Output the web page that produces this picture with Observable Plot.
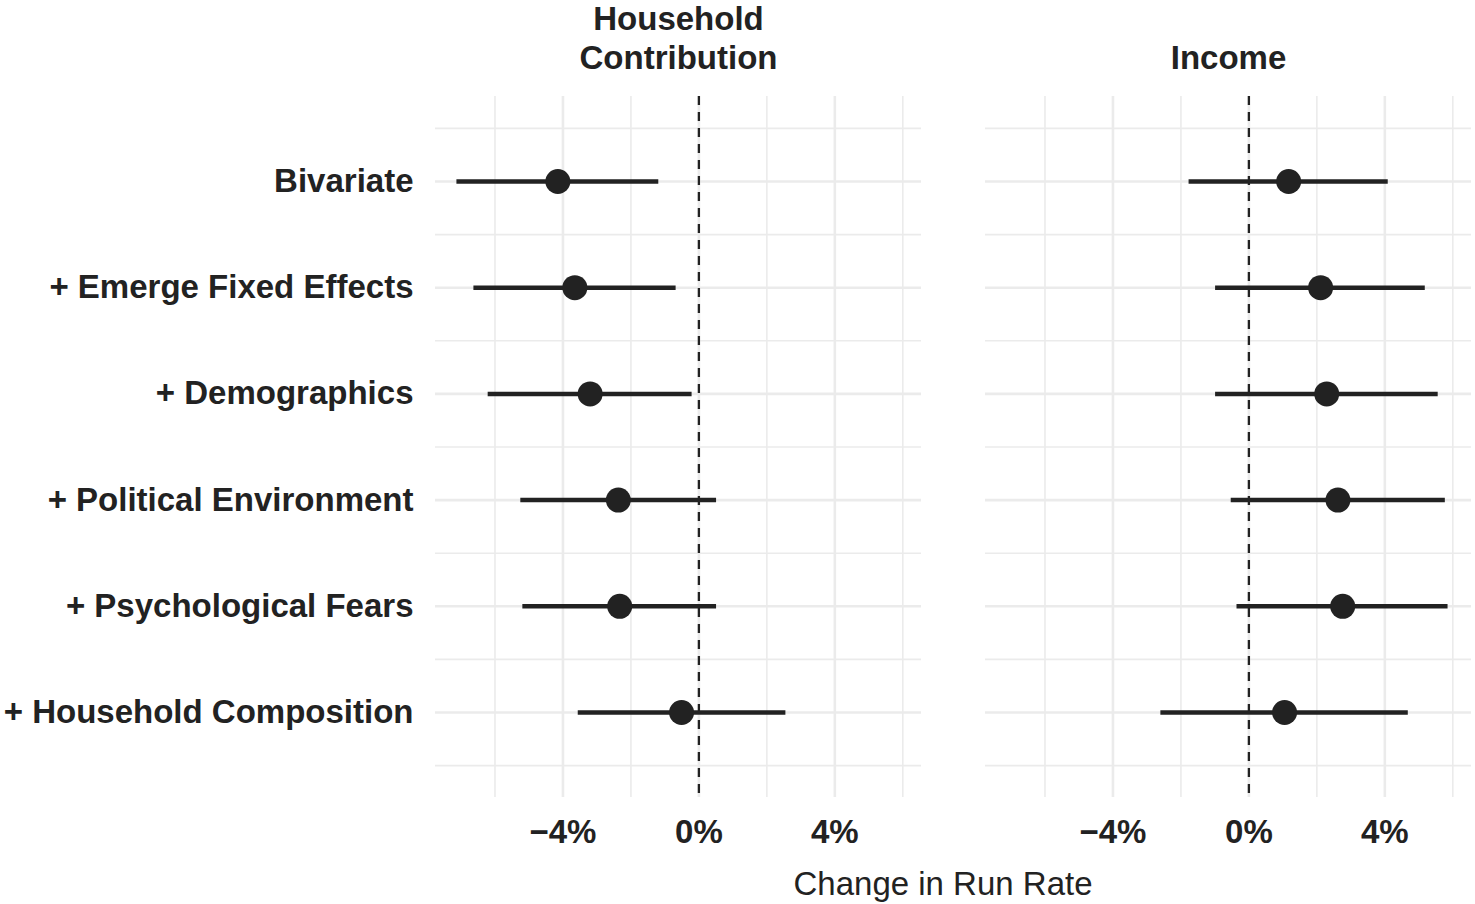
<!DOCTYPE html>
<html>
<head>
<meta charset="utf-8">
<script src="https://cdn.jsdelivr.net/npm/d3@7"></script>
<script src="https://cdn.jsdelivr.net/npm/@observablehq/plot@0.6"></script>
<style>
  body { margin: 0; background: #fff; font-family: "Liberation Sans", Arial, Helvetica, sans-serif; }
  #wrap { position: relative; width: 1475px; height: 904px; background: #fff; }
  #xlabel { position: absolute; left: 643px; width: 600px; top: 867px; text-align: center;
            font-size: 33px; line-height: 33px; color: #222; }
</style>
</head>
<body>
<div id="wrap">
  <div id="chart"></div>
  <div id="xlabel">Change in Run Rate</div>
</div>
<script>
// ---- data ----
const categories = [
  "Bivariate",
  "+ Emerge Fixed Effects",
  "+ Demographics",
  "+ Political Environment",
  "+ Psychological Fears",
  "+ Household Composition"
];
const panels = ["Household Contribution", "Income"];

const hcEstimate = [-4.15, -3.65, -3.20, -2.37, -2.33, -0.51];
const hcLow      = [-7.12, -6.62, -6.20, -5.24, -5.18, -3.55];
const hcHigh     = [-1.18, -0.67, -0.20,  0.52,  0.52,  2.56];

const incEstimate = [1.17, 2.11, 2.29, 2.62, 2.76, 1.05];
const incLow      = [-1.76, -0.98, -0.98, -0.52, -0.35, -2.59];
const incHigh     = [4.10, 5.19, 5.57, 5.78, 5.86, 4.69];

const xMajorTicks = [-4, 0, 4];
const xMinorTicks = [-6, -2, 2, 6];

// ---- build table ----
const series = {
  "Household Contribution": {est: hcEstimate, lo: hcLow, hi: hcHigh},
  "Income": {est: incEstimate, lo: incLow, hi: incHigh}
};
const rows = [];
for (const p of panels) {
  const s = series[p];
  categories.forEach((c, i) => rows.push({panel: p, idx: i, category: c, est: s.est[i], lo: s.lo[i], hi: s.hi[i]}));
}
const yMajor = categories.map((c, i) => i);
const yMinor = d3.range(categories.length + 1).map(i => i - 0.5);

const fmtPct = d => (d < 0 ? "\u2212" : "") + Math.abs(d) + "%";
const grid = "#ebebeb";
const ink = "#222222";

const chart = Plot.plot({
  width: 1475,
  height: 868,
  marginLeft: 434,
  marginRight: 4,
  marginTop: 96,
  marginBottom: 71,
  style: {
    fontFamily: "'Liberation Sans', Arial, Helvetica, sans-serif",
    fontSize: "33px",
    color: ink,
    background: "#fff",
    overflow: "visible"
  },
  fx: {domain: panels, paddingInner: 0.117, paddingOuter: 0, axis: null, label: null},
  x: {domain: [-7.75, 6.55], axis: null},
  y: {domain: [-0.8, 5.8], reverse: true, axis: null},
  marks: [
    Plot.ruleX(xMinorTicks, {stroke: grid, strokeWidth: 1.6}),
    Plot.ruleX(xMajorTicks, {stroke: grid, strokeWidth: 2.6}),
    Plot.ruleY(yMinor, {stroke: grid, strokeWidth: 1.6}),
    Plot.ruleY(yMajor, {stroke: grid, strokeWidth: 2.6}),
    Plot.ruleX([0], {stroke: ink, strokeWidth: 2.3, strokeDasharray: "9,7"}),
    Plot.ruleY(rows, {fx: "panel", y: "idx", x1: "lo", x2: "hi", stroke: ink, strokeWidth: 4.5}),
    Plot.dot(rows, {fx: "panel", x: "est", y: "idx", r: 12.5, fill: ink, stroke: "none"}),
    Plot.axisFx({anchor: "top", tickSize: 0, tickPadding: 28, label: null,
                 tickFormat: d => d.replace(" ", "\n"),
                 fontSize: 33, fontWeight: "bold", lineHeight: 1.17}),
    Plot.axisY(yMajor, {tickFormat: i => categories[i], tickSize: 0, tickPadding: 22,
                 label: null, fontSize: 33, fontWeight: "bold"}),
    Plot.axisX({ticks: xMajorTicks, tickFormat: fmtPct, tickSize: 0, tickPadding: 22,
                 label: null, fontSize: 33, fontWeight: "bold"})
  ]
});
document.getElementById("chart").appendChild(chart);
</script>
</body>
</html>
